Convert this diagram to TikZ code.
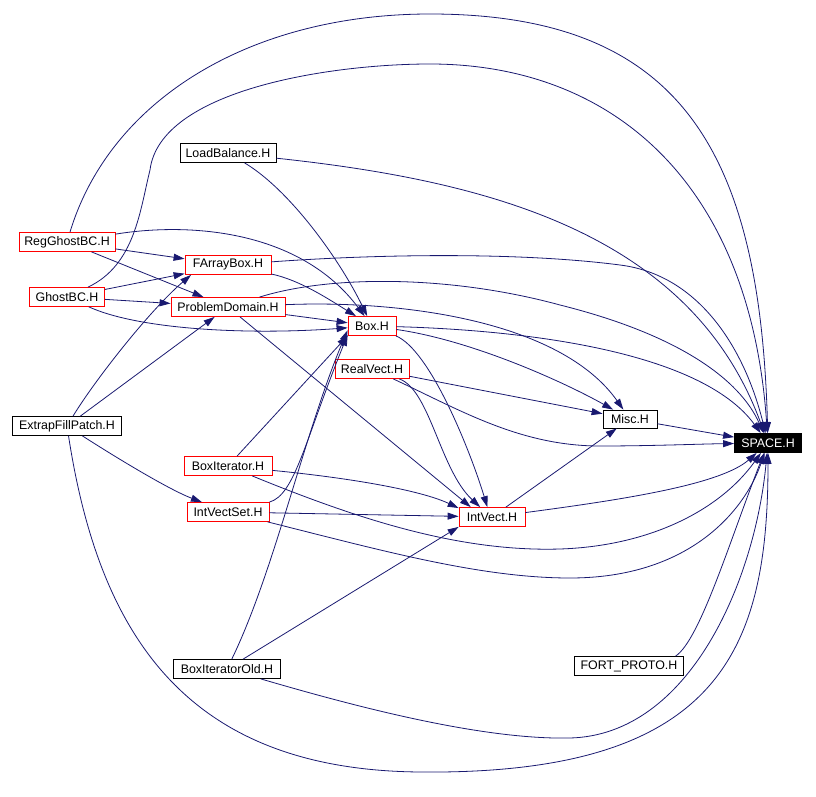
\documentclass[tikz,border=0pt]{standalone}
\usepackage{fontspec}
\setmainfont{Liberation Sans}
\usepackage{tikz}
\usetikzlibrary{arrows.meta}
\usepackage{xcolor}
\definecolor{edgeblue}{RGB}{25,25,112}
\definecolor{hdrred}{RGB}{255,0,0}

\begin{document}
\begin{tikzpicture}[x=1pt, y=-1pt,
  file/.style={draw=black, line width=0.8pt, fill=white, inner sep=0pt, minimum height=19pt, font=\fontsize{12.4}{14}\selectfont},
  redfile/.style={file, draw=hdrred},
  dep/.style={draw=edgeblue, line width=0.8pt, -{Triangle[length=11pt,width=7pt]}}]
  \useasboundingbox (0,0) rectangle (816,797);

  % header files
  \node[file, minimum width=96pt] (loadbalance) at (228,153) {LoadBalance.H};
  \node[redfile, minimum width=96pt] (regghost) at (67,242) {RegGhostBC.H};
  \node[redfile, minimum width=86pt] (farraybox) at (228,265) {FArrayBox.H};
  \node[redfile, minimum width=75pt] (ghostbc) at (67,297) {GhostBC.H};
  \node[redfile, minimum width=114pt] (probdomain) at (228,307) {ProblemDomain.H};
  \node[redfile, minimum width=48pt] (box) at (372,326) {Box.H};
  \node[redfile, minimum width=74pt] (realvect) at (372,369) {RealVect.H};
  \node[file, minimum width=109pt] (extrap) at (67,426) {ExtrapFillPatch.H};
  \node[file, minimum width=54pt, minimum height=18pt] (misc) at (630,419) {Misc.H};
  \node[file, fill=black, text=white, minimum width=67pt] (space) at (768,443) {SPACE.H};
  \node[redfile, minimum width=88pt] (boxiter) at (228,466) {BoxIterator.H};
  \node[redfile, minimum width=82pt] (intvectset) at (228,512) {IntVectSet.H};
  \node[redfile, minimum width=66pt] (intvect) at (492,517) {IntVect.H};
  \node[file, minimum width=107pt] (boxiterold) at (227,669) {BoxIteratorOld.H};
  \node[file, minimum width=109pt] (fortproto) at (629,666) {FORT\_PROTO.H};

  % includes of SPACE.H
  \draw[dep] (regghost) .. controls (110,100) and (250,14) .. (430,14)
    .. controls (680,14) and (760,150) .. (space);
  \draw[dep] (ghostbc) .. controls (135,265) and (140,210) .. (150,170)
    .. controls (160,90) and (330,64) .. (430,64)
    .. controls (610,64) and (750,180) .. (space);
  \draw[dep] (loadbalance) .. controls (480,180) and (690,230) .. (space);
  \draw[dep] (farraybox) .. controls (380,254) and (520,252) .. (620,265)
    .. controls (700,275) and (745,350) .. (space);
  \draw[dep] (probdomain) .. controls (330,275) and (450,275) .. (560,305)
    .. controls (680,335) and (740,380) .. (space);
  \draw[dep] (box) .. controls (520,330) and (700,350) .. (space);
  \draw[dep] (realvect) .. controls (460,410) and (520,446) .. (600,446)
    .. controls (650,446) and (700,444) .. (space);
  \draw[dep] (misc) -- (space);
  \draw[dep] (intvect) .. controls (620,500) and (720,485) .. (space);
  \draw[dep] (boxiter) .. controls (360,520) and (460,552) .. (560,549)
    .. controls (650,546) and (720,510) .. (space);
  \draw[dep] (intvectset) .. controls (380,550) and (480,578) .. (570,578)
    .. controls (690,578) and (745,510) .. (space);
  \draw[dep] (fortproto.12) .. controls (700,640) and (730,540) .. (space);
  \draw[dep] (boxiterold) .. controls (350,705) and (480,740) .. (570,738)
    .. controls (690,735) and (755,580) .. (space);
  \draw[dep] (extrap) .. controls (100,640) and (190,770) .. (420,772)
    .. controls (720,775) and (768,650) .. (space);

  % includes of Box.H
  \draw[dep] (loadbalance) .. controls (290,190) and (340,260) .. (box);
  \draw[dep] (regghost) .. controls (190,222) and (300,230) .. (box);
  \draw[dep] (farraybox) .. controls (300,280) and (330,300) .. (box);
  \draw[dep] (ghostbc) .. controls (140,330) and (250,335) .. (box);
  \draw[dep] (probdomain) -- (box);
  \draw[dep] (boxiter) -- (box.south west);
  \draw[dep] (intvectset.north east) .. controls (295,495) and (305,440) .. (box.200);
  \draw[dep] (boxiterold) .. controls (275,570) and (305,430) .. (box.190);

  % FArrayBox.H and ProblemDomain.H
  \draw[dep] (regghost) -- (farraybox);
  \draw[dep] (ghostbc) -- (farraybox);
  \draw[dep] (extrap) .. controls (95,380) and (150,310) .. (farraybox.195);
  \draw[dep] (regghost) -- (probdomain);
  \draw[dep] (ghostbc) -- (probdomain);
  \draw[dep] (extrap) -- (probdomain);
  \draw[dep] (extrap) .. controls (120,460) and (170,490) .. (intvectset);

  % Misc.H
  \draw[dep] (probdomain) .. controls (400,300) and (560,320) .. (misc);
  \draw[dep] (box) .. controls (470,340) and (560,380) .. (misc);
  \draw[dep] (realvect) -- (misc);
  \draw[dep] (intvect) -- (misc);

  % IntVect.H
  \draw[dep] (probdomain) -- (intvect.155);
  \draw[dep] (box) .. controls (430,350) and (470,450) .. (intvect.115);
  \draw[dep] (realvect) .. controls (430,390) and (440,470) .. (intvect.140);
  \draw[dep] (boxiter) .. controls (350,478) and (420,490) .. (intvect.165);
  \draw[dep] (intvectset) -- (intvect);
  \draw[dep] (boxiterold) -- (intvect.south west);
\end{tikzpicture}
\end{document}
